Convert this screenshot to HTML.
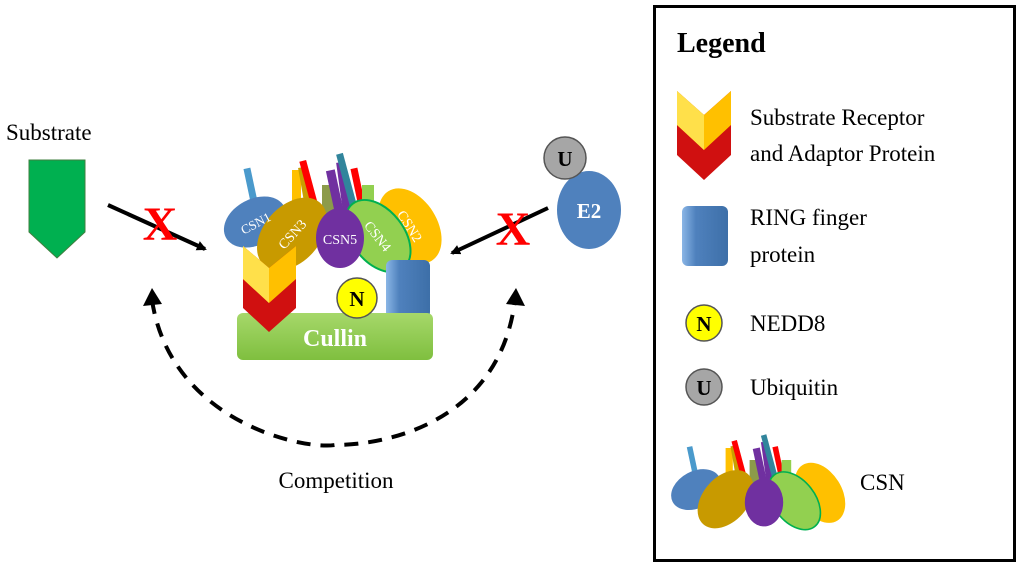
<!DOCTYPE html>
<html><head><meta charset="utf-8"><style>
html,body{margin:0;padding:0;background:#fff}
svg{display:block}
text{font-family:"Liberation Serif",serif}
</style></head><body>
<svg width="1024" height="568" viewBox="0 0 1024 568" xmlns="http://www.w3.org/2000/svg">
<defs>
<marker id="ah" markerWidth="10" markerHeight="10" refX="8" refY="5" orient="auto" markerUnits="userSpaceOnUse"><path d="M0,0 L10,5 L0,10 z" fill="#000"/></marker>
<linearGradient id="gc" x1="0" y1="0" x2="0" y2="1"><stop offset="0" stop-color="#a6d86a"/><stop offset="1" stop-color="#7fbf3f"/></linearGradient>
<linearGradient id="gb" x1="0" y1="0" x2="1" y2="0"><stop offset="0" stop-color="#8ab6e6"/><stop offset="0.3" stop-color="#4f81bd"/><stop offset="1" stop-color="#3d6fa8"/></linearGradient>
<g id="sticks">
<rect x="248" y="168" width="7" height="50" fill="#4a9acc" transform="rotate(-12 251 190)"/>
<rect x="292" y="170" width="9" height="45" fill="#ffc000"/>
<rect x="302" y="167" width="9" height="48" fill="#c9a000" transform="rotate(-10 306 190)"/>
<rect x="307" y="160" width="7" height="55" fill="#ff0000" transform="rotate(-15 310 190)"/>
<rect x="322" y="185" width="12" height="30" fill="#8c9b4a"/>
<rect x="330" y="170" width="9" height="45" fill="#7030a0" transform="rotate(-12 334 190)"/>
<rect x="340" y="162" width="9" height="50" fill="#7030a0" transform="rotate(-8 344 190)"/>
<rect x="343" y="153" width="7" height="55" fill="#31859c" transform="rotate(-15 346 180)"/>
<rect x="355" y="168" width="7" height="45" fill="#ff0000" transform="rotate(-12 358 190)"/>
<rect x="362" y="185" width="12" height="25" fill="#92d050"/>
</g>
<g id="csn">
<use href="#sticks"/>
<ellipse cx="255" cy="222" rx="33" ry="23" fill="#4f81bd" transform="rotate(-28 255 222)"/>
<ellipse cx="410" cy="226" rx="27" ry="41" fill="#ffc000" transform="rotate(-32 410 226)"/>
<ellipse cx="292" cy="234" rx="28" ry="42" fill="#c89a00" transform="rotate(42 292 234)"/>
<ellipse cx="378" cy="236" rx="26" ry="41" fill="#92d050" stroke="#00b050" stroke-width="2" transform="rotate(-38 378 236)"/>
<ellipse cx="340" cy="238" rx="24" ry="30" fill="#7030a0"/>
</g>
</defs>

<rect x="654.5" y="6.5" width="360" height="554" fill="#fff" stroke="#000" stroke-width="3"/>
<text x="677" y="52" font-size="28" font-weight="bold">Legend</text>
<polygon points="677,91 704,115 731,91 731,155 704,180 677,155" fill="#d01010"/>
<polygon points="677,91 704,115 731,91 731,125 704,150 677,125" fill="#ffc000"/>
<polygon points="677,91 704,115 704,150 677,125" fill="#ffe04a"/>
<text x="750" y="125" font-size="23">Substrate Receptor</text>
<text x="750" y="161" font-size="23">and  Adaptor Protein</text>
<rect x="682" y="206" width="46" height="60" rx="6" fill="url(#gb)"/>
<text x="750" y="225" font-size="23">RING finger</text>
<text x="750" y="262" font-size="23">protein</text>
<circle cx="704" cy="323" r="18" fill="#ffff00" stroke="#555" stroke-width="1.5"/>
<text x="704" y="331" font-size="21" font-weight="bold" text-anchor="middle">N</text>
<text x="750" y="331" font-size="23">NEDD8</text>
<circle cx="704" cy="387" r="18" fill="#a6a6a6" stroke="#555" stroke-width="1.5"/>
<text x="704" y="395" font-size="21" font-weight="bold" text-anchor="middle">U</text>
<text x="750" y="395" font-size="23">Ubiquitin</text>
<g transform="translate(492 312) scale(0.8)"><use href="#csn"/></g>
<text x="860" y="490" font-size="23">CSN</text>

<text x="6" y="140" font-size="23">Substrate</text>
<polygon points="29,160 85,160 85,232 57,258 29,232" fill="#00b050" stroke="#3f7f3f" stroke-width="1"/>

<line x1="108" y1="205" x2="205" y2="249" stroke="#000" stroke-width="4" marker-end="url(#ah)"/>
<text x="160" y="240" font-size="48" font-weight="bold" fill="#ff0000" text-anchor="middle">X</text>
<line x1="548" y1="208" x2="452" y2="253" stroke="#000" stroke-width="4" marker-end="url(#ah)"/>
<text x="513" y="245" font-size="48" font-weight="bold" fill="#ff0000" text-anchor="middle">X</text>

<ellipse cx="589" cy="210" rx="32" ry="39" fill="#4f81bd"/>
<text x="589" y="218" font-size="21" font-weight="bold" fill="#fff" text-anchor="middle">E2</text>
<circle cx="565" cy="158" r="21" fill="#a6a6a6" stroke="#555" stroke-width="1.5"/>
<text x="565" y="166" font-size="21" font-weight="bold" text-anchor="middle">U</text>

<use href="#csn"/>
<text x="255" y="228" font-size="13" fill="#fff" text-anchor="middle" transform="rotate(-28 255 222)">CSN1</text>
<text x="292" y="239" font-size="14" fill="#fff" text-anchor="middle" transform="rotate(-48 292 234)">CSN3</text>
<text x="340" y="244" font-size="14" fill="#fff" text-anchor="middle">CSN5</text>
<text x="378" y="241" font-size="14" fill="#fff" text-anchor="middle" transform="rotate(52 378 236)">CSN4</text>
<text x="410" y="231" font-size="14" fill="#fff" text-anchor="middle" transform="rotate(58 410 226)">CSN2</text>
<rect x="386" y="260" width="44" height="58" rx="6" fill="url(#gb)"/>
<rect x="237" y="313" width="196" height="47" rx="6" fill="url(#gc)"/>
<text x="335" y="346" font-size="24" font-weight="bold" fill="#fff" text-anchor="middle">Cullin</text>
<polygon points="243,246 269,268 296,246 296,308 269,332 243,308" fill="#d01010"/>
<polygon points="243,246 269,268 296,246 296,279 269,303 243,279" fill="#ffc000"/>
<polygon points="243,246 269,268 269,303 243,279" fill="#ffe04a"/>
<circle cx="357" cy="298" r="20" fill="#ffff00" stroke="#555" stroke-width="1.5"/>
<text x="357" y="306" font-size="21" font-weight="bold" text-anchor="middle">N</text>

<path d="M152,300 C170,420 300,450 335,445 C390,445 500,420 515,300" fill="none" stroke="#000" stroke-width="4" stroke-dasharray="14,10"/>
<polygon points="152,288 143,306 162,304" fill="#000"/>
<polygon points="516,288 506,304 525,306" fill="#000"/>
<text x="336" y="488" font-size="23" text-anchor="middle">Competition</text>
</svg>
</body></html>
